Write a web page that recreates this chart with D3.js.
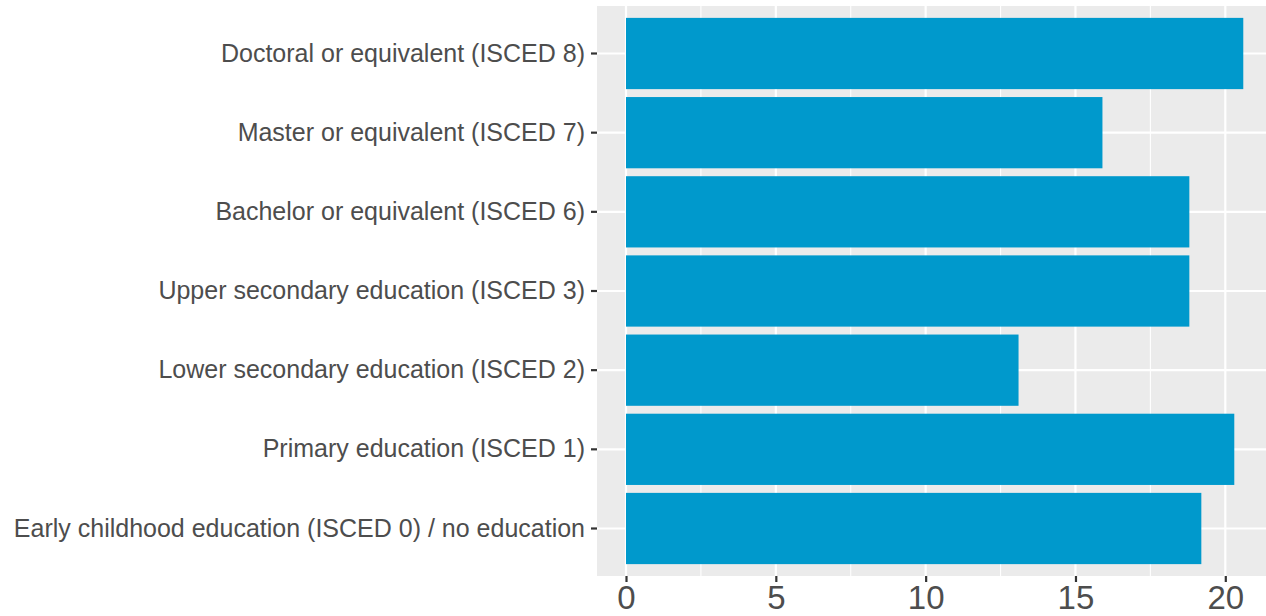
<!DOCTYPE html>
<html><head><meta charset="utf-8">
<script src="https://cdn.jsdelivr.net/npm/d3@7"></script>
<style>body{margin:0;background:#fff}svg{display:block}</style>
</head><body><svg id="c" width="1266" height="616"></svg>
<script>
const categories = [
  "Doctoral or equivalent (ISCED 8)",
  "Master or equivalent (ISCED 7)",
  "Bachelor or equivalent (ISCED 6)",
  "Upper secondary education (ISCED 3)",
  "Lower secondary education (ISCED 2)",
  "Primary education (ISCED 1)",
  "Early childhood education (ISCED 0) / no education"
];
const values = [20.6, 15.9, 18.8, 18.8, 13.1, 20.3, 19.2];
const xTicks = [0, 5, 10, 15, 20];
const xMinor = [2.5, 7.5, 12.5, 17.5];

const svg = d3.select("#c");
const L = 597, R = 1266, T = 6, B = 576;
const x = d3.scaleLinear().domain([0, 20]).range([626, 1225.3]);
const y = d3.scaleBand().domain(categories).range([T, B]).paddingInner(0.1).paddingOuter(0.15);

svg.append("rect").attr("x", L).attr("y", T).attr("width", R - L).attr("height", B - T).attr("fill", "#EBEBEB");
const g = svg.append("g");
xMinor.forEach(v => g.append("line").attr("x1", x(v)).attr("x2", x(v)).attr("y1", T).attr("y2", B).attr("stroke", "#fff").attr("stroke-width", 1.1));
xTicks.forEach(v => g.append("line").attr("x1", x(v)).attr("x2", x(v)).attr("y1", T).attr("y2", B).attr("stroke", "#fff").attr("stroke-width", 2.2));
categories.forEach(c => g.append("line").attr("x1", L).attr("x2", R).attr("y1", y(c) + y.bandwidth() / 2).attr("y2", y(c) + y.bandwidth() / 2).attr("stroke", "#fff").attr("stroke-width", 2.2));

svg.selectAll("rect.bar").data(values).enter().append("rect").attr("class", "bar")
  .attr("x", x(0)).attr("y", (d, i) => y(categories[i]))
  .attr("width", d => x(d) - x(0)).attr("height", y.bandwidth())
  .attr("fill", "#0099CC");

// x axis
const xa = svg.append("g").attr("transform", `translate(0,${B})`)
  .call(d3.axisBottom(x).tickValues(xTicks).tickSize(6).tickPadding(4).tickFormat(d3.format("d")));
xa.select(".domain").remove();
xa.selectAll("line").attr("stroke", "#333").attr("stroke-width", 2.2);
xa.selectAll("text").attr("fill", "#4D4D4D").attr("font-size", 33).attr("font-family", "Liberation Sans, Arial, sans-serif");

// y axis
const ya = svg.append("g").attr("transform", `translate(${L},0)`)
  .call(d3.axisLeft(y).tickSize(6).tickPadding(6));
ya.select(".domain").remove();
ya.selectAll("line").attr("stroke", "#333").attr("stroke-width", 2.2);
ya.selectAll("text").attr("fill", "#4D4D4D").attr("font-size", 25).attr("font-family", "Liberation Sans, Arial, sans-serif");
</script></body></html>
